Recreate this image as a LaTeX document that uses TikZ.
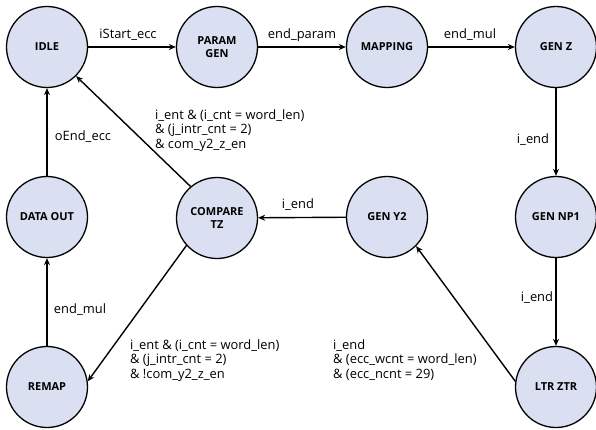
\documentclass[tikz,border=0pt]{standalone}
\usepackage{fontspec}
\setmainfont{Open Sans}
\usetikzlibrary{arrows.meta}
\definecolor{statefill}{RGB}{218,224,242}
\tikzset{
  state/.style={circle, draw=black, line width=1.3pt, fill=statefill, minimum size=81pt, inner sep=0pt, align=center, font=\fontsize{11}{13.5}\selectfont\bfseries},
  trans/.style={line width=1.4pt, -{Stealth[length=7pt,width=6pt]}},
  lbl/.style={font=\fontsize{12.9}{14.6}\selectfont, inner sep=0pt},
  mlbl/.style={lbl, align=left, anchor=north west}
}
\begin{document}
\begin{tikzpicture}[x=1pt,y=-1pt]
\useasboundingbox (0,0) rectangle (596,429);
\node[state] (idle) at (47,47) {IDLE};
\node[state] (param) at (217,47) {PARAM\\GEN};
\node[state] (map) at (387,47) {MAPPING};
\node[state] (genz) at (556,47) {GEN Z};
\node[state] (dout) at (47,217) {DATA OUT};
\node[state] (cmp) at (217,218) {COMPARE\\TZ};
\node[state] (geny) at (387,217) {GEN Y2};
\node[state] (gennp) at (556,217) {GEN NP1};
\node[state] (remap) at (47,387) {REMAP};
\node[state] (ltr) at (556,387) {LTR ZTR};

\draw[trans] (idle) -- (param);
\draw[trans] (param) -- (map);
\draw[trans] (map) -- (genz);
\draw[trans] (genz) -- (gennp);
\draw[trans] (gennp) -- (ltr);
\draw[trans] (ltr.172) -- (geny.-45);
\draw[trans] (geny) -- (cmp);
\draw[trans] (cmp.130) -- (idle.-45);
\draw[trans] (cmp.222) -- (remap.8);
\draw[trans] (remap) -- (dout);
\draw[trans] (dout) -- (idle);

\node[lbl] (l1) at (128,35) {iStart\_ecc};
\node[lbl] (l2) at (302,35) {end\_param};
\node[lbl] (l3) at (470,35) {end\_mul};
\node[lbl] (l4) at (533,140) {i\_end};
\node[lbl] (l5) at (537,298) {i\_end};
\node[lbl] (l6) at (298,205) {i\_end};
\node[lbl] (l7) at (83,137) {oEnd\_ecc};
\node[lbl] (l8) at (80,310) {end\_mul};
\node[mlbl] (l9) at (155,109) {i\_ent \& (i\_cnt = word\_len)\\\& (j\_intr\_cnt = 2)\\\& com\_y2\_z\_en};
\node[mlbl] (l10) at (130,339) {i\_ent \& (i\_cnt = word\_len)\\\& (j\_intr\_cnt = 2)\\\& !com\_y2\_z\_en};
\node[mlbl] (l11) at (333,339) {i\_end\\\& (ecc\_wcnt = word\_len)\\\& (ecc\_ncnt = 29)};
\end{tikzpicture}
\end{document}
